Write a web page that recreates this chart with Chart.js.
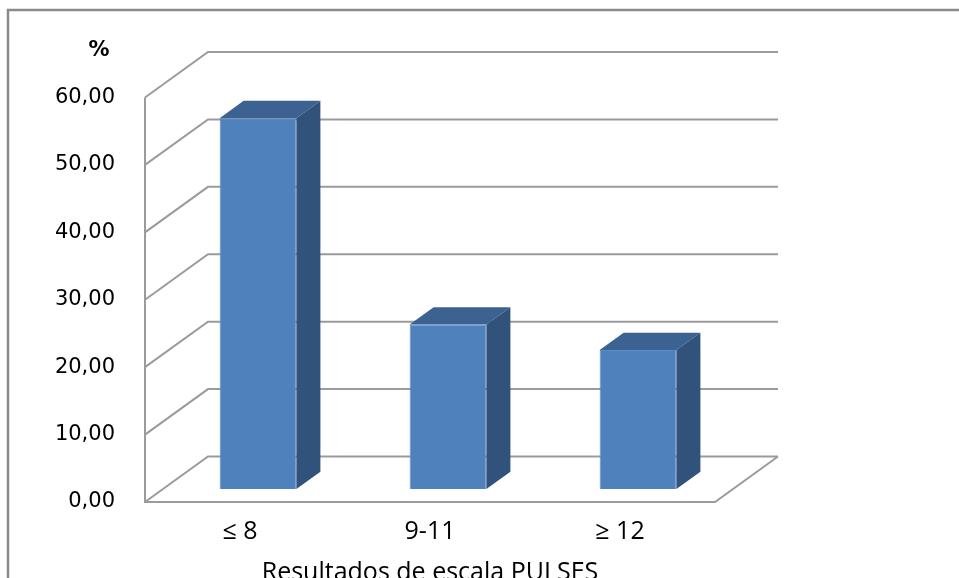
<!DOCTYPE html>
<html>
<head>
<meta charset="utf-8">
<script src="https://cdn.jsdelivr.net/npm/chart.js@4.4.1/dist/chart.umd.min.js"></script>
<style>
  html, body { margin: 0; padding: 0; background: #fff; }
  #wrap { width: 959px; height: 578px; position: relative; }
</style>
</head>
<body>
<div id="wrap"><canvas id="chart"></canvas></div>
<script>
const categories = ['≤ 8', '9-11', '≥ 12'];
const percentages = [55.0, 24.4, 20.6];
const yTicks = [0, 10, 20, 30, 40, 50, 60];

// 3d look: how far the back wall sits from the front plane
const DEPTH = { x: 63, y: -45.5 };
const BAR_FRONT = 0.286;
const BAR_BACK = 0.667;
const GRID = '#9b9b9b';

function fmt(v) {
  return Number(v).toFixed(2).replace('.', ',');
}

const box3d = {
  id: 'box3d',
  beforeDraw(chart) {
    const { ctx, chartArea: a, scales: { y } } = chart;
    ctx.save();
    // outer frame
    ctx.strokeStyle = '#8a8a8a';
    ctx.lineWidth = 2.5;
    ctx.beginPath();
    ctx.moveTo(8, 580);
    ctx.lineTo(8, 10);
    ctx.lineTo(960, 10);
    ctx.stroke();

    // walls and gridlines
    ctx.strokeStyle = GRID;
    ctx.lineWidth = 2;
    ctx.beginPath();
    yTicks.forEach(v => {
      const py = y.getPixelForValue(v);
      ctx.moveTo(a.left, py);
      ctx.lineTo(a.left + DEPTH.x, py + DEPTH.y);
      ctx.lineTo(a.right + DEPTH.x, py + DEPTH.y);
    });
    ctx.moveTo(a.left, y.getPixelForValue(yTicks[yTicks.length - 1]));
    ctx.lineTo(a.left, a.bottom);
    ctx.lineTo(a.right, a.bottom);
    ctx.lineTo(a.right + DEPTH.x, a.bottom + DEPTH.y);
    ctx.stroke();

    ctx.fillStyle = '#000';
    ctx.font = 'bold 21px "DejaVu Sans"';
    ctx.textAlign = 'center';
    ctx.textBaseline = 'middle';
    ctx.fillText('%', 99, 51);
    ctx.restore();
  },
  beforeDatasetsDraw(chart) {
    chart.ctx.save();
    chart.ctx.translate(DEPTH.x * BAR_FRONT, DEPTH.y * BAR_FRONT);
  },
  afterDatasetsDraw(chart) {
    const ctx = chart.ctx;
    const dx = DEPTH.x * (BAR_BACK - BAR_FRONT);
    const dy = DEPTH.y * (BAR_BACK - BAR_FRONT);
    chart.getDatasetMeta(0).data.forEach(bar => {
      const { x, y, base, width } = bar.getProps(['x', 'y', 'base', 'width'], true);
      const l = x - width / 2, r = x + width / 2;
      ctx.fillStyle = '#3c6291';
      ctx.beginPath();
      ctx.moveTo(l, y);
      ctx.lineTo(l + dx, y + dy);
      ctx.lineTo(r + dx, y + dy);
      ctx.lineTo(r, y);
      ctx.closePath();
      ctx.fill();
      ctx.fillStyle = '#31527a';
      ctx.beginPath();
      ctx.moveTo(r, y);
      ctx.lineTo(r + dx, y + dy);
      ctx.lineTo(r + dx, base + dy);
      ctx.lineTo(r, base);
      ctx.closePath();
      ctx.fill();
    });
    ctx.restore();
  }
};

new Chart(document.getElementById('chart'), {
  type: 'bar',
  data: {
    labels: categories,
    datasets: [{
      data: percentages,
      backgroundColor: '#4f81bd',
      borderColor: '#5a8cc8',
      borderWidth: 1,
      categoryPercentage: 0.404,
      barPercentage: 1,
      clip: false
    }]
  },
  options: {
    responsive: true,
    maintainAspectRatio: false,
    animation: false,
    layout: { padding: { left: 0, right: 244, top: 97.5, bottom: 0 } },
    plugins: { legend: { display: false }, tooltip: { enabled: false } },
    scales: {
      x: {
        grid: { display: false },
        border: { display: false },
        ticks: { color: '#000', font: { family: 'Open Sans', size: 25 }, padding: 7 },
        title: {
          display: true,
          text: 'Resultados de escala PULSES',
          color: '#000',
          font: { family: 'Open Sans', size: 25 },
          padding: { top: 0, bottom: -10 }
        },
        afterFit(s) { s.height = 76; }
      },
      y: {
        min: 0,
        max: 60,
        grid: { display: false },
        border: { display: false },
        ticks: {
          stepSize: 10,
          callback: fmt,
          color: '#000',
          font: { family: 'DejaVu Sans', size: 21 },
          padding: 22
        },
        afterFit(s) { s.width = 145; }
      }
    }
  },
  plugins: [box3d]
});
</script>
</body>
</html>
